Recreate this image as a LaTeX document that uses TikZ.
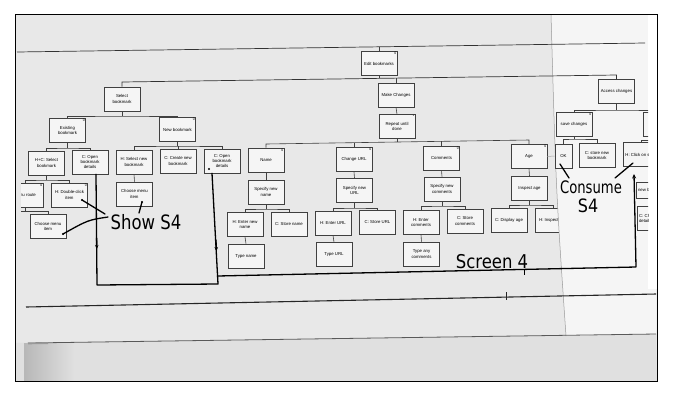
\documentclass[tikz,border=0pt]{standalone}
\usepackage{fontspec}
\setsansfont{Liberation Sans}
\newfontfamily\handfont{DejaVu Sans}
\usetikzlibrary{arrows.meta}
\newcommand\bxfnt{\sffamily\fontsize{4.3}{5.1}\selectfont}
\newcommand\mkfnt{\sffamily\fontsize{3.4}{3.4}\selectfont}
\begin{document}
\begin{tikzpicture}[x=1pt,y=-1pt,
  tb/.style={draw=black!75, line width=0.6pt, fill=black!4, minimum width=36pt, minimum height=24pt, inner sep=0.5pt, align=center, font=\bxfnt},
  tbl/.style={tb, align=left, text width=32pt},
  om/.style={label={[anchor=north east, inner sep=0.8pt, font=\mkfnt]north east:0}},
  bar/.style={draw=black!75, line width=0.6pt},
  hand/.style={line width=1.3pt, black, line cap=round, line join=round},
  hw/.style={font=\handfont, inner sep=0pt},
  dotm/.style={circle, fill=black, inner sep=0pt, minimum size=2.4pt}
]
\useasboundingbox (0,0) rectangle (676,405);
\fill[white] (0,0) rectangle (676,405);
\fill[black!9] (15,14) rectangle (657,381);
% bottom band below the paper edge
\fill[black!12] (15,343) -- (656,334) -- (657,381) -- (15,381) -- cycle;
\shade[left color=black!28, right color=black!12] (24,343) rectangle (75,381);

% ---------------- left sheet content ----------------
% left tree
\node[tb] (sel) at (122,99) {Select\\bookmark};
\node[tb,om] (exi) at (67.5,130.5) {Existing\\bookmark};
\node[tb,om] (newb) at (177.5,129.5) {New bookmark};
\node[tb] (hcs) at (46.5,163) {H+C: Select\\bookmark};
\node[tb] (op1) at (90,162) {C: Open\\bookmark\\details};
\node[tb] (hsn) at (134,162) {H: Select new\\bookmark};
\node[tb] (ccn) at (178,161) {C: Create new\\bookmark};
\node[tb] (op2) at (222,161) {C: Open\\bookmark\\details};
\node[tb,om] (dcl) at (69.5,195) {H: Double-click\\item};
\node[tb] (cm1) at (48,226.5) {Choose menu\\item};
\node[tb] (cm2) at (134.5,194) {Choose menu\\item};
\coordinate (b1) at (122,116);
\coordinate (b2) at (67.5,148);
\coordinate (b3) at (177.5,146);
\coordinate (b4) at (46.5,180);
\coordinate (b5) at (25,211);
\draw[bar] (sel.south) -- (b1);
\draw[bar] (exi.north) |- (b1) -| (newb.north);
\draw[bar] (exi.south) -- (b2);
\draw[bar] (hcs.north) |- (b2) -| (op1.north);
\draw[bar] (newb.south) -- (b3);
\draw[bar] (hsn.north) |- (b3) -| (op2.north);
\draw[bar] (ccn.north) -- (ccn.north |- b3);
\draw[bar] (hcs.south) -- (b4);
\draw[bar] (hsn.south) -- (cm2.north);
\begin{scope}
  \clip (21,170) rectangle (110,245);
  \node[tb,om] (mr) at (25,195) {Menu route};
  \draw[bar] (mr.north) |- (b4) -| (dcl.north);
  \draw[bar] (mr.south) -- (b5) -| (cm1.north);
  \draw[bar] (b5) -- (10,211);
\end{scope}

% middle tree
\node[tb,om] (edit) at (379,63.5) {Edit bookmarks};
\node[tb] (mk) at (396,95) {Make Changes};
\node[tb,label={[anchor=north east, inner sep=0.8pt, font=\mkfnt]north east:*}] (rep) at (397,126.5) {Repeat until\\done};
\node[tb,om] (nm) at (266,160) {Name};
\node[tb,om] (cu) at (354,159.5) {Change URL};
\node[tb,om] (cmt) at (441.5,158) {Comments};
\node[tb,om] (age) at (529,156.5) {Age};
\node[tb] (snn) at (266,192) {Specify new\\name};
\node[tb] (snu) at (354.5,190.5) {Specify new\\URL};
\node[tb] (snc) at (442,189) {Specify new\\comments};
\node[tb] (ina) at (529.5,188.5) {Inspect age};
\node[tb] (hen) at (245,224.5) {H: Enter new\\name};
\node[tb] (csn) at (289,224) {C: Store name};
\node[tb] (heu) at (333,223) {H: Enter URL};
\node[tb] (csu) at (377.5,222) {C: Store URL};
\node[tb] (hec) at (421,222.5) {H: Enter\\comments};
\node[tb] (csc) at (465,221) {C: Store\\comments};
\node[tb] (cda) at (509,220) {C: Display age};
\node[tb] (hia) at (553,220) {H: Inspect age};
\node[tb] (tn) at (246,256) {Type name};
\node[tb] (tu) at (334,254.5) {Type URL};
\node[tb] (tac) at (421.5,254) {Type any\\comments};

\draw[bar] (mk.south) -- (rep.north);
\coordinate (r1) at (266,144);
\coordinate (r2) at (354,142.7);
\coordinate (rr) at (397,142);
\coordinate (r3) at (441.5,141.3);
\coordinate (r4) at (529,140);
\draw[bar] (nm.north) -- (r1) -- (r4) -- (age.north);
\draw[bar] (rep.south) -- (rr);
\draw[bar] (cu.north) -- (r2);
\draw[bar] (cmt.north) -- (r3);

\coordinate (n1) at (266,209);
\coordinate (u1) at (354.5,208);
\coordinate (c1) at (442,206);
\coordinate (a1) at (529.5,205);
\draw[bar] (nm.south) -- (snn.north);
\draw[bar] (snn.south) -- (n1);
\draw[bar] (hen.north) |- (n1) -| (csn.north);
\draw[bar] (hen.south) -- (tn.north);
\draw[bar] (cu.south) -- (snu.north);
\draw[bar] (snu.south) -- (u1);
\draw[bar] (heu.north) |- (u1) -| (csu.north);
\draw[bar] (heu.south) -- (tu.north);
\draw[bar] (cmt.south) -- (snc.north);
\draw[bar] (snc.south) -- (c1);
\draw[bar] (hec.north) |- (c1) -| (csc.north);
\draw[bar] (hec.south) -- (tac.north);
\draw[bar] (age.south) -- (ina.north);
\draw[bar] (ina.south) -- (a1);
\draw[bar] (cda.north) |- (a1) -| (hia.north);

% ---------------- right sheet ----------------
\fill[black!4] (551,14.5) .. controls (556,190) .. (566,336) -- (656.5,334) -- (656.5,14.5) -- cycle;
\fill[white] (648,14.5) rectangle (656.5,289);
\draw[black!40, line width=0.5pt] (551,14.5) .. controls (556,190) .. (566,336);

\node[tb] (acc) at (616.5,91.5) {Access changes};
\node[tb,om] (sav) at (574,124) {save changes};
\node[tb, minimum width=17pt] (ok) at (563.5,156) {OK};
\node[tb] (csb) at (597,155.5) {C: store new\\bookmark};
\coordinate (s0) at (616.5,110);
\coordinate (s1) at (574,139);
\coordinate (s2) at (641,140);
\begin{scope}
  \clip (540,20) rectangle (648,290);
  \node[tb] (rc1) at (661,124) {};
  \node[tb] (hco) at (641,154.5) {H: Click on save};
  \node[tbl, minimum height=16pt] (nw) at (654,190) {new bookmark};
  \node[tbl] (ccd) at (655,218.5) {C: Change\\details};
  \draw[bar] (acc.south) -- (s0);
  \draw[bar] (sav.north) |- (s0) -| (rc1.north);
  \draw[bar] (hco.north) -- (s2) -- (652,140);
\end{scope}
\draw[bar] (sav.south) -- (s1);
\draw[bar] (ok.north) |- (s1) -| (csb.north);
\draw[black!35, line width=0.5pt] (age.east) -- (ok.west);

% long lines across both sheets
\draw[line width=0.7pt, black!80] (17,52) -- (645,43);
\draw[bar] (edit.north) -- (379,46.8);
\coordinate (t1) at (122,82);
\coordinate (t2) at (616.5,75);
\draw[line width=0.7pt, black!80] (sel.north) -- (t1) -- (t2) -- (acc.north);
\draw[bar] (edit.south) -- (379,78.4);
\draw[bar] (mk.north) -- (396,78.1);

% lower lines of the sheet
\draw[line width=1.1pt, black!85] (26,307) -- (656,294);
\draw[line width=1pt, black!85] (506,292) -- (506,300);
\draw[line width=0.8pt, black!65] (28,343) -- (656,334);
\draw[line width=1.6pt, black!40] (28,343.5) -- (48,343.2);

% ---------------- hand-drawn additions ----------------
\coordinate (d0) at (209,169);
\node[dotm] at (d0) {};
\draw[hand] ([xshift=6pt]op1.south) -- (97,285) -- (218,284) -- ([xshift=-10pt]op2.south);
\draw[hand, -{Stealth[length=4pt,width=3.5pt]}] (96.6,238) -- (96.8,249);
\draw[hand, -{Stealth[length=4pt,width=3.5pt]}] (216,240) -- (216.4,251);
\draw[hand, -{Stealth[length=4.5pt,width=4pt]}] (217.4,276) -- (636,267) -- (634,174);
\draw[line width=1pt] (524,269) -- (524,275);

\node[hw] (show) at (146,222) {\fontsize{16.5}{16.5}\selectfont\scalebox{1}[1.2]{Show S4}};
\coordinate (d1) at (82,200);
\coordinate (d2) at (63,234);
\coordinate (d3) at (142,202);
\node[dotm] at (d1) {};
\node[dotm] at (d2) {};
\node[dotm] at (d3) {};
\draw[hand] (d1) -- (105,214);
\draw[hand] (108,217) .. controls (88,220) .. (d2);
\draw[hand] (d3) -- (139,213);

\node[hw] (scr) at (492,262) {\fontsize{16.5}{16.5}\selectfont\scalebox{1}[1.15]{Screen 4}};
\node[hw] (cons) at (591,187) {\fontsize{13.2}{13.2}\selectfont\scalebox{1}[1.3]{Consume}};
\node[hw] (cs4) at (588,206) {\fontsize{16}{16}\selectfont\scalebox{1}[1.15]{S4}};
\draw[hand] (560,164) -- (569,178);
\draw[hand] (633,163) -- (615,178);

% frame
\draw[line width=0.9pt] (15,14) rectangle (657,381);
\end{tikzpicture}
\end{document}
